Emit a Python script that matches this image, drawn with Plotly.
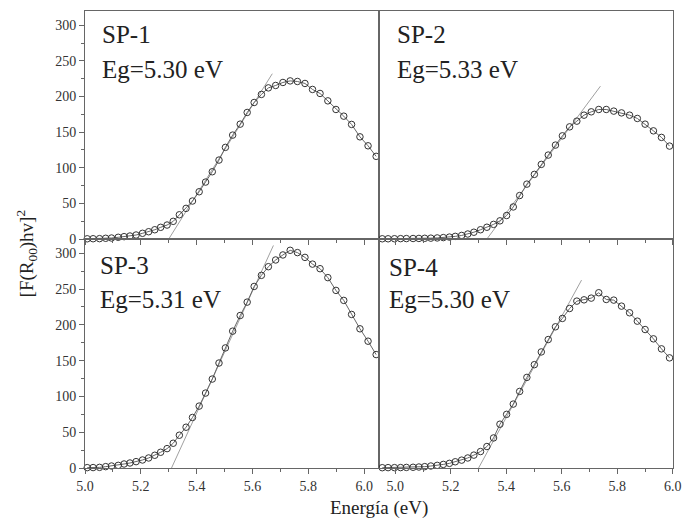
import plotly.graph_objects as go

# Energy values (eV), left column and right column panels
energia_izq = [5.008, 5.029, 5.052, 5.074, 5.095, 5.119, 5.140, 5.161, 5.183, 5.206,
               5.228, 5.250, 5.271, 5.294, 5.316, 5.338, 5.362, 5.385, 5.409, 5.432,
               5.456, 5.480, 5.503, 5.529, 5.556, 5.581, 5.606, 5.632, 5.657, 5.683,
               5.709, 5.735, 5.761, 5.788, 5.815, 5.842, 5.870, 5.899, 5.927, 5.955,
               5.985, 6.014, 6.043]
energia_der = [4.953, 4.974, 4.997, 5.019, 5.040, 5.064, 5.085, 5.106, 5.128, 5.151,
               5.173, 5.195, 5.216, 5.239, 5.261, 5.283, 5.307, 5.330, 5.354, 5.377,
               5.401, 5.425, 5.448, 5.474, 5.501, 5.526, 5.551, 5.577, 5.602, 5.628,
               5.654, 5.680, 5.706, 5.733, 5.760, 5.787, 5.815, 5.844, 5.872, 5.900,
               5.930, 5.959, 5.988]

sp1 = [0.3, 0.4, 0.5, 1.0, 1.4, 2.4, 3.3, 4.2, 5.6, 8.0,
       10.2, 13.0, 16.4, 19.6, 24.8, 34.0, 43.0, 53.3, 66.3, 79.9,
       94.4, 110.8, 128.6, 145.8, 161.2, 177.6, 191.6, 202.9, 212.1, 215.5,
       219.7, 221.9, 221.1, 218.3, 209.9, 204.3, 193.9, 181.8, 172.4, 160.8,
       143.4, 130.8, 116.0]
sp2 = [0.3, 0.3, 0.4, 0.5, 0.6, 0.7, 0.8, 1.0, 1.2, 1.5,
       2.0, 2.7, 3.7, 5.0, 7.0, 9.5, 13.0, 16.5, 20.5, 25.5,
       33.0, 45.0, 61.0, 77.0, 90.7, 104.7, 117.8, 131.8, 144.8, 157.4,
       165.4, 173.8, 178.5, 181.8, 181.8, 179.5, 177.0, 173.8, 169.2, 161.2,
       151.8, 142.6, 130.4]
sp3 = [0.5, 0.6, 0.9, 1.9, 2.8, 3.7, 5.6, 7.0, 8.9, 11.2,
       14.0, 17.8, 22.0, 27.1, 34.6, 45.8, 57.0, 70.6, 86.5, 104.7,
       124.3, 146.7, 167.8, 191.2, 213.1, 231.8, 253.7, 269.2, 281.3, 290.7,
       297.7, 304.2, 301.0, 294.3, 284.9, 278.5, 266.0, 248.2, 234.2, 214.6,
       194.5, 177.2, 158.5]
sp4 = [0.4, 0.5, 0.5, 0.6, 0.8, 1.0, 1.4, 1.9, 2.8, 3.7,
       5.0, 6.5, 8.7, 11.0, 14.0, 18.0, 23.0, 30.0, 42.0, 61.2,
       75.0, 89.3, 107.0, 126.6, 144.4, 162.2, 179.5, 197.3, 209.0, 222.9,
       233.2, 235.0, 237.4, 244.9, 235.5, 234.6, 226.2, 216.9, 205.2, 193.5,
       180.5, 166.5, 153.9]

muestras = ["SP-1", "SP-2", "SP-3", "SP-4"]
eg = [5.30, 5.33, 5.31, 5.30]
eg_labels = ["Eg=5.30 eV", "Eg=5.33 eV", "Eg=5.31 eV", "Eg=5.30 eV"]
fit_fin_x = [5.671, 5.739, 5.675, 5.671]
fit_fin_y = [232.0, 214.5, 311.0, 262.6]

series = [(energia_izq, sp1), (energia_der, sp2), (energia_izq, sp3), (energia_der, sp4)]

FONT = "Liberation Serif"
AX = "#666666"

fig = go.Figure()
axis_ids = [("x", "y"), ("x2", "y2"), ("x3", "y3"), ("x4", "y4")]
for i, ((xs, ys), (xa, ya)) in enumerate(zip(series, axis_ids)):
    fig.add_trace(go.Scatter(x=[eg[i], fit_fin_x[i]], y=[0, fit_fin_y[i]], mode="lines",
                             line=dict(color="#a0a0a0", width=1), xaxis=xa, yaxis=ya,
                             showlegend=False, hoverinfo="skip"))
    fig.add_trace(go.Scatter(x=xs, y=ys, mode="lines+markers",
                             line=dict(color="#666666", width=1),
                             marker=dict(symbol="circle-open", size=6.5, color="#333333",
                                         line=dict(width=1, color="#333333")),
                             xaxis=xa, yaxis=ya, showlegend=False, cliponaxis=False))

split_x = 299 / 597
split_y = 229 / 457

def xax(domain, rng, anchor, labels):
    return dict(domain=domain, range=rng, anchor=anchor, showline=True, mirror=True,
                linecolor=AX, linewidth=1, showgrid=False, zeroline=False,
                ticks="outside", ticklen=5, tickcolor=AX, tickwidth=1,
                tickvals=[5.0, 5.2, 5.4, 5.6, 5.8, 6.0],
                ticktext=["5.0", "5.2", "5.4", "5.6", "5.8", "6.0"],
                showticklabels=labels,
                minor=dict(ticks="outside", ticklen=3, tickcolor=AX, dtick=0.1, tick0=5.0),
                tickfont=dict(family=FONT, size=14, color="#333333"))

def yax(domain, anchor, labels):
    d = dict(domain=domain, range=[0, 320], anchor=anchor, showline=True, mirror=True,
             linecolor=AX, linewidth=1, showgrid=False, zeroline=False,
             tickvals=[0, 50, 100, 150, 200, 250, 300],
             showticklabels=labels,
             tickfont=dict(family=FONT, size=14, color="#333333"))
    if labels:
        d.update(ticks="outside", ticklen=5, tickcolor=AX, tickwidth=1,
                 minor=dict(ticks="outside", ticklen=3, tickcolor=AX, dtick=25, tick0=0))
    else:
        d.update(ticks="")
    return d

fig.update_layout(
    width=691, height=520,
    margin=dict(l=85, r=9, t=11, b=52),
    paper_bgcolor="white", plot_bgcolor="white",
    xaxis=xax([0, split_x], [5.0, 6.055], "y", False),
    yaxis=yax([split_y, 1], "x", True),
    xaxis2=xax([split_x, 1], [4.943, 6.0005], "y2", False),
    yaxis2=yax([split_y, 1], "x2", False),
    xaxis3=xax([0, split_x], [5.0, 6.055], "y3", True),
    yaxis3=yax([0, split_y], "x3", True),
    xaxis4=xax([split_x, 1], [4.943, 6.0005], "y4", True),
    yaxis4=yax([0, split_y], "x4", False),
)

pos = [(0.05, 0.895, 0.745), (0.054, 0.895, 0.745), (0.045, 0.885, 0.735), (0.027, 0.875, 0.735)]
for i, (xa, ya) in enumerate(axis_ids):
    xd = xa + " domain"
    yd = ya + " domain"
    px, py1, py2 = pos[i]
    fig.add_annotation(x=px, y=py1, xref=xd, yref=yd, text=muestras[i], showarrow=False,
                       xanchor="left", yanchor="middle",
                       font=dict(family=FONT, size=25, color="#222222"))
    fig.add_annotation(x=px, y=py2, xref=xd, yref=yd, text=eg_labels[i], showarrow=False,
                       xanchor="left", yanchor="middle",
                       font=dict(family=FONT, size=25, color="#222222"))

fig.add_annotation(x=0.5, y=-0.058, xref="paper", yref="paper", text="Energía (eV)",
                   showarrow=False, xanchor="center", yanchor="top",
                   font=dict(family=FONT, size=19, color="#222222"))
fig.add_annotation(x=-0.10, y=0.47, xref="paper", yref="paper",
                   text="[F(R<sub>00</sub>)hv]<sup>2</sup>", textangle=-90,
                   showarrow=False, xanchor="center", yanchor="middle",
                   font=dict(family=FONT, size=19, color="#222222"))

fig.write_html("out.html", config={"displayModeBar": False},
               post_script="document.body.style.margin='0px';")
